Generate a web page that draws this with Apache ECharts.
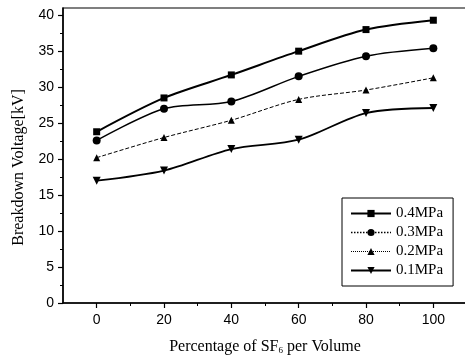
<!DOCTYPE html>
<html>
<head>
<meta charset="utf-8">
<script src="https://cdn.jsdelivr.net/npm/echarts@6/dist/echarts.min.js"></script>
<style>
  html, body { margin: 0; padding: 0; background: #fff; }
  #chart { width: 465px; height: 361px; }
</style>
</head>
<body>
<div id="chart"></div>
<script>
const sf6Percent = [0, 20, 40, 60, 80, 100]
const v04 = [23.8, 28.5, 31.7, 35.0, 38.0, 39.3]
const v03 = [22.6, 27.0, 28.0, 31.5, 34.3, 35.4]
const v02 = [20.2, 23.0, 25.4, 28.3, 29.6, 31.3]
const v01 = [17.0, 18.4, 21.4, 22.7, 26.4, 27.1]
const xMajor = [0, 20, 40, 60, 80, 100]
const xMinor = [10, 30, 50, 70, 90]
const yMajor = [0, 5, 10, 15, 20, 25, 30, 35, 40]
const yMinor = [2.5, 7.5, 12.5, 17.5, 22.5, 27.5, 32.5, 37.5]

const pairs = vs => sf6Percent.map((x, i) => [x, vs[i]])
const black = '#000'
const serif = '"Liberation Serif", "Times New Roman", serif'
const sans = '"Liberation Sans", Arial, sans-serif'

const chart = echarts.init(document.getElementById('chart'))

const lineSeries = (name, data, symbol, size, width, type, rotate) => ({
  name,
  type: 'line',
  data: pairs(data),
  smooth: 0.3,
  symbol,
  symbolSize: size,
  symbolRotate: rotate || 0,
  lineStyle: { color: black, width, type },
  itemStyle: { color: black },
  emphasis: { disabled: true }
})

const option = {
  animation: false,
  grid: {
    left: 63,
    top: 8,
    width: 404,
    height: 295,
    show: true,
    borderColor: black,
    borderWidth: 1.2,
    outerBoundsMode: 'none'
  },
  legend: {
    orient: 'vertical',
    left: 342,
    top: 198,
    padding: [8, 10, 8, 8],
    itemWidth: 40,
    itemHeight: 9,
    itemGap: 4,
    itemTextGap: 4,
    borderColor: black,
    borderWidth: 1,
    backgroundColor: '#fff',
    textStyle: { fontFamily: serif, fontSize: 15, color: black },
    data: [
      { name: '0.4MPa' },
      { name: '0.3MPa', lineStyle: { type: 'dotted', width: 1.5 } },
      { name: '0.2MPa', lineStyle: { type: 'dotted', width: 1 } },
      { name: '0.1MPa' }
    ]
  },
  xAxis: [
    {
      type: 'value',
      min: -10,
      max: 110,
      name: 'Percentage of SF{sub|6} per Volume',
      nameLocation: 'middle',
      nameGap: 35,
      nameTextStyle: {
        fontFamily: serif,
        fontSize: 16,
        color: black,
        rich: {
          sub: { fontFamily: serif, fontSize: 9, color: black, verticalAlign: 'bottom', padding: [8, 0, 0, 0] }
        }
      },
      axisLine: { show: true, onZero: false, lineStyle: { color: black, width: 1.5 } },
      axisTick: { show: true, length: 5, customValues: xMajor, lineStyle: { color: black, width: 1.2 } },
      axisLabel: { customValues: xMajor, margin: 10, fontFamily: sans, fontSize: 14, color: black },
      splitLine: { show: false }
    },
    {
      type: 'value',
      min: -10,
      max: 110,
      position: 'bottom',
      axisLine: { show: false, onZero: false },
      axisTick: { show: true, length: 3, customValues: xMinor, lineStyle: { color: black, width: 1 } },
      axisLabel: { show: false },
      splitLine: { show: false }
    }
  ],
  yAxis: [
    {
      type: 'value',
      min: 0,
      max: 41,
      name: 'Breakdown Voltage[kV]',
      nameLocation: 'middle',
      nameGap: 36,
      nameTextStyle: { fontFamily: serif, fontSize: 16, color: black, padding: [0, 24, 0, 0] },
      axisLine: { show: true, onZero: false, lineStyle: { color: black, width: 1.5 } },
      axisTick: { show: true, length: 5, customValues: yMajor, lineStyle: { color: black, width: 1.2 } },
      axisLabel: { customValues: yMajor, margin: 9, fontFamily: sans, fontSize: 14, color: black },
      splitLine: { show: false }
    },
    {
      type: 'value',
      min: 0,
      max: 41,
      position: 'left',
      axisLine: { show: false, onZero: false },
      axisTick: { show: true, length: 3, customValues: yMinor, lineStyle: { color: black, width: 1 } },
      axisLabel: { show: false },
      splitLine: { show: false }
    }
  ],
  series: [
    lineSeries('0.4MPa', v04, 'rect', 7, 2, 'solid'),
    lineSeries('0.3MPa', v03, 'circle', 8, 1.5, 'solid'),
    lineSeries('0.2MPa', v02, 'triangle', 7, 1, 'dashed'),
    lineSeries('0.1MPa', v01, 'triangle', 8, 1.8, 'solid', 180)
  ]
}

chart.setOption(option)
</script>
</body>
</html>
